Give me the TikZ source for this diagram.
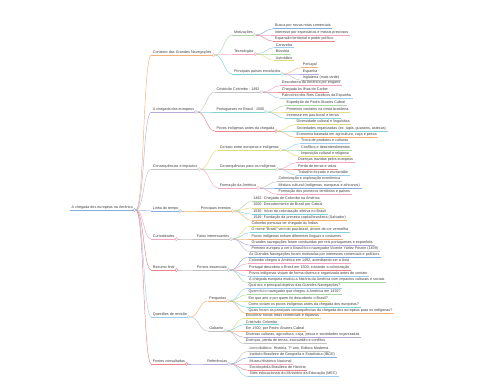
\documentclass[tikz,border=0pt]{standalone}
\usepackage{fontspec}
\setmainfont{Liberation Sans}
\usepackage{xcolor}
\usepackage{tikz}
\usetikzlibrary{calc}

\definecolor{c0}{HTML}{F3B27A}
\definecolor{c1}{HTML}{B8A9DB}
\definecolor{c2}{HTML}{C2C2C2}
\definecolor{c3}{HTML}{86AEDC}
\definecolor{c4}{HTML}{F3A6C3}
\definecolor{c5}{HTML}{E6868B}
\definecolor{c6}{HTML}{A0CCEE}
\definecolor{c7}{HTML}{ACD8A6}
\definecolor{c8}{HTML}{E3DB7F}
\definecolor{c9}{HTML}{83D2D6}

\tikzset{
    topic/.style={anchor=south west, inner xsep=1.5pt, inner ysep=0.9pt, text=black!75,
        font=\fontsize{3.7}{4.4}\selectfont,
        append after command={\pgfextra{\let\mainnode=\tikzlastnode}
            (\mainnode.south west) edge[draw=#1, line width=0.45pt] (\mainnode.south east)}},
    knob/.style={circle, draw=#1, fill=white, line width=0.4pt, inner sep=0pt, minimum size=3pt},
    link/.style={draw=#1, line width=0.45pt, out=0, in=180, max distance=8pt},
}

\begin{document}
\begin{tikzpicture}[x=1pt, y=-1pt]
    \useasboundingbox (0,0) rectangle (480,384);

    % raiz e primeiro nivel
    \node[topic=c3] (root) at (70,210) {A chegada dos europeus na América};
    \node[topic=c0] (ctx) at ($(root.south east)+(17,-155)$) {Contexto das Grandes Navegações};
    \node[topic=c1] (che) at ($(root.south east)+(17,-98)$) {A chegada dos europeus};
    \node[topic=c2] (con) at ($(root.south east)+(17,-41)$) {Consequências e impactos};
    \node[topic=c3] (lin) at ($(root.south east)+(17,1)$) {Linha do tempo};
    \node[topic=c4] (cur) at ($(root.south east)+(17,29)$) {Curiosidades};
    \node[topic=c5] (res) at ($(root.south east)+(17,60)$) {Resumo final};
    \node[topic=c6] (que) at ($(root.south east)+(17,107)$) {Questões de revisão};
    \node[topic=c5] (fon) at ($(root.south east)+(17,154)$) {Fontes consultadas};

    % segundo nivel
    \node[topic=c7] (mot) at ($(ctx.south east)+(19,-20)$) {Motivações};
    \node[topic=c4] (tec) at ($(ctx.south east)+(19,-1)$) {Tecnologias};
    \node[topic=c9] (pai) at ($(ctx.south east)+(19,19)$) {Principais países envolvidos};
    \node[topic=c2] (col) at ($(che.south east)+(19,-20)$) {Cristóvão Colombo - 1492};
    \node[topic=c9] (por) at ($(che.south east)+(19,0)$) {Portugueses no Brasil - 1500};
    \node[topic=c5] (pov) at ($(che.south east)+(19,19)$) {Povos indígenas antes da chegada};
    \node[topic=c8] (cnt) at ($(con.south east)+(19,-19)$) {Contato entre europeus e indígenas};
    \node[topic=c7] (cpi) at ($(con.south east)+(19,0)$) {Consequências para os indígenas};
    \node[topic=c4] (frm) at ($(con.south east)+(19,19)$) {Formação da América};
    \node[topic=c0] (eve) at ($(lin.south east)+(19,0)$) {Principais eventos};
    \node[topic=c2] (fat) at ($(cur.south east)+(19,0)$) {Fatos interessantes};
    \node[topic=c2] (pon) at ($(res.south east)+(19,0)$) {Pontos essenciais};
    \node[topic=c0] (per) at ($(que.south east)+(19,-16)$) {Perguntas};
    \node[topic=c2] (gab) at ($(que.south east)+(19,14)$) {Gabarito};
    \node[topic=c1] (ref) at ($(fon.south east)+(19,0)$) {Referências};

    % bolinhas nas pontas
    \foreach \n/\c in {root/c3, ctx/c0, che/c1, con/c2, lin/c3, cur/c4, res/c5, que/c6, fon/c5,
        mot/c7, tec/c4, pai/c9, col/c2, por/c9, pov/c5, cnt/c8, cpi/c7, frm/c4,
        eve/c0, fat/c2, pon/c2, per/c0, gab/c2, ref/c1}
        \node[knob=\c] (\n-k) at (\n.south east) {};

    % ligacoes
    \foreach \a/\b/\c in {root/ctx/c0, root/che/c1, root/con/c2, root/lin/c3, root/cur/c4,
        root/res/c5, root/que/c6, root/fon/c5, ctx/mot/c7, ctx/tec/c4, ctx/pai/c9,
        che/col/c2, che/por/c9, che/pov/c5, con/cnt/c8, con/cpi/c7, con/frm/c4,
        lin/eve/c0, cur/fat/c2, res/pon/c2, que/per/c0, que/gab/c2, fon/ref/c1}
        \draw[link=\c] (\a-k) to (\b.south west);

    % folhas
    \foreach \txt [count=\i] in {Busca por novas rotas comerciais, Interesse por especiarias e metais preciosos,
        Expansão territorial e poder político}{
        \pgfmathtruncatemacro\k{mod(\i+2,10)}
        \node[topic=c\k] (mot-\i) at ($(mot.south east)+(19,{(\i-2)*6.3})$) {\txt};
        \draw[link=c\k] (mot-k) to (mot-\i.south west);
    }
    \foreach \txt [count=\i] in {Caravelas, Bússola, Astrolábio}{
        \pgfmathtruncatemacro\k{mod(\i+5,10)}
        \node[topic=c\k] (tec-\i) at ($(tec.south east)+(19,{(\i-2)*6.3})$) {\txt};
        \draw[link=c\k] (tec-k) to (tec-\i.south west);
    }
    \foreach \txt [count=\i] in {Portugal, Espanha, Inglaterra (mais tarde)}{
        \pgfmathtruncatemacro\k{mod(\i-1,10)}
        \node[topic=c\k] (pai-\i) at ($(pai.south east)+(19,{(\i-2)*6.3})$) {\txt};
        \draw[link=c\k] (pai-k) to (pai-\i.south west);
    }
    \foreach \txt [count=\i] in {Descoberta da América por engano, Chegada às Ilhas do Caribe,
        Patrocínio dos Reis Católicos da Espanha}{
        \pgfmathtruncatemacro\k{mod(\i+3,10)}
        \node[topic=c\k] (col-\i) at ($(col.south east)+(19,{(\i-2)*6.3})$) {\txt};
        \draw[link=c\k] (col-k) to (col-\i.south west);
    }
    \foreach \txt [count=\i] in {Expedição de Pedro Álvares Cabral, Primeiros contatos na costa brasileira,
        Interesse em pau-brasil e terras}{
        \pgfmathtruncatemacro\k{mod(\i+6,10)}
        \node[topic=c\k] (por-\i) at ($(por.south east)+(19,{(\i-2)*6.3})$) {\txt};
        \draw[link=c\k] (por-k) to (por-\i.south west);
    }
    \foreach \txt [count=\i] in {Diversidade cultural e linguística,
        {Sociedades organizadas (ex: tupis, guaranis, astecas)},
        {Economia baseada em agricultura, caça e pesca}}{
        \pgfmathtruncatemacro\k{mod(\i+7,10)}
        \node[topic=c\k] (pov-\i) at ($(pov.south east)+(19,{(\i-2)*6.3})$) {\txt};
        \draw[link=c\k] (pov-k) to (pov-\i.south west);
    }
    \foreach \txt [count=\i] in {Troca de produtos e culturas, Conflitos e desentendimentos,
        Imposição cultural e religiosa}{
        \pgfmathtruncatemacro\k{mod(\i+5,10)}
        \node[topic=c\k] (cnt-\i) at ($(cnt.south east)+(19,{(\i-2)*6.3})$) {\txt};
        \draw[link=c\k] (cnt-k) to (cnt-\i.south west);
    }
    \foreach \txt [count=\i] in {Doenças trazidas pelos europeus, Perda de terras e vidas,
        Trabalho forçado e escravidão}{
        \pgfmathtruncatemacro\k{mod(\i+3,10)}
        \node[topic=c\k] (cpi-\i) at ($(cpi.south east)+(19,{(\i-2)*6.3})$) {\txt};
        \draw[link=c\k] (cpi-k) to (cpi-\i.south west);
    }
    \foreach \txt [count=\i] in {Colonização e exploração econômica,
        {Mistura cultural (indígenas, europeus e africanos)},
        Formação dos primeiros territórios e países}{
        \pgfmathtruncatemacro\k{mod(\i+1,10)}
        \node[topic=c\k] (frm-\i) at ($(frm.south east)+(19,{(\i-2)*6.3})$) {\txt};
        \draw[link=c\k] (frm-k) to (frm-\i.south west);
    }
    \foreach \txt [count=\i] in {1492: Chegada de Colombo na América, 1500: Descobrimento do Brasil por Cabral,
        1530: Início da colonização efetiva no Brasil, 1549: Fundação da primeira capital brasileira (Salvador)}{
        \pgfmathtruncatemacro\k{mod(\i+6,10)}
        \node[topic=c\k] (eve-\i) at ($(eve.south east)+(19,{(\i-2.5)*6.3})$) {\txt};
        \draw[link=c\k] (eve-k) to (eve-\i.south west);
    }
    \foreach \txt [count=\i] in {Colombo pensava ter chegado às Índias,
        {O nome "Brasil" vem do pau-brasil, árvore de cor vermelha},
        Povos indígenas tinham diferentes línguas e costumes,
        Grandes navegações foram conduzidas por reis portugueses e espanhóis,
        Primeiro europeu a ver o Brasil foi o navegador Vicente Yáñez Pinzón (1499)}{
        \pgfmathtruncatemacro\k{mod(\i+7,10)}
        \node[topic=c\k] (fat-\i) at ($(fat.south east)+(19,{(\i-3)*6.3})$) {\txt};
        \draw[link=c\k] (fat-k) to (fat-\i.south west);
    }
    \foreach \txt [count=\i] in {As Grandes Navegações foram motivadas por interesses comerciais e políticos,
        {Colombo chegou à América em 1492, acreditando ser a Ásia},
        {Portugal descobriu o Brasil em 1500, iniciando a colonização},
        Povos indígenas viviam de forma diversa e organizada antes do contato,
        A chegada europeia mudou a história da América com impactos culturais e sociais}{
        \pgfmathtruncatemacro\k{mod(\i+2,10)}
        \node[topic=c\k] (pon-\i) at ($(pon.south east)+(19,{(\i-3)*6.3})$) {\txt};
        \draw[link=c\k] (pon-k) to (pon-\i.south west);
    }
    \foreach \txt [count=\i] in {Qual era o principal objetivo das Grandes Navegações?,
        Quem foi o navegador que chegou à América em 1492?,
        Em que ano e por quem foi descoberto o Brasil?,
        Como viviam os povos indígenas antes da chegada dos europeus?,
        Quais foram as principais consequências da chegada dos europeus para os indígenas?}{
        \pgfmathtruncatemacro\k{mod(\i+5,10)}
        \node[topic=c\k] (per-\i) at ($(per.south east)+(19,{(\i-3)*6.3})$) {\txt};
        \draw[link=c\k] (per-k) to (per-\i.south west);
    }
    \foreach \txt [count=\i] in {Encontrar novas rotas comerciais e riquezas, Cristóvão Colombo,
        {Em 1500, por Pedro Álvares Cabral},
        {Diversas culturas, agricultura, caça, pesca e sociedades organizadas},
        {Doenças, perda de terras, escravidão e conflitos}}{
        \pgfmathtruncatemacro\k{mod(\i+7,10)}
        \node[topic=c\k] (gab-\i) at ($(gab.south east)+(19,{(\i-3)*6.3})$) {\txt};
        \draw[link=c\k] (gab-k) to (gab-\i.south west);
    }
    \foreach \txt [count=\i] in {{Livro didático: História, 7º ano, Editora Moderna},
        Instituto Brasileiro de Geografia e Estatística (IBGE),
        Museu Histórico Nacional, Enciclopédia Brasileira de História,
        Sites educacionais do Ministério da Educação (MEC)}{
        \pgfmathtruncatemacro\k{mod(\i+1,10)}
        \node[topic=c\k] (ref-\i) at ($(ref.south east)+(19,{(\i-3)*6.3})$) {\txt};
        \draw[link=c\k] (ref-k) to (ref-\i.south west);
    }
\end{tikzpicture}
\end{document}
